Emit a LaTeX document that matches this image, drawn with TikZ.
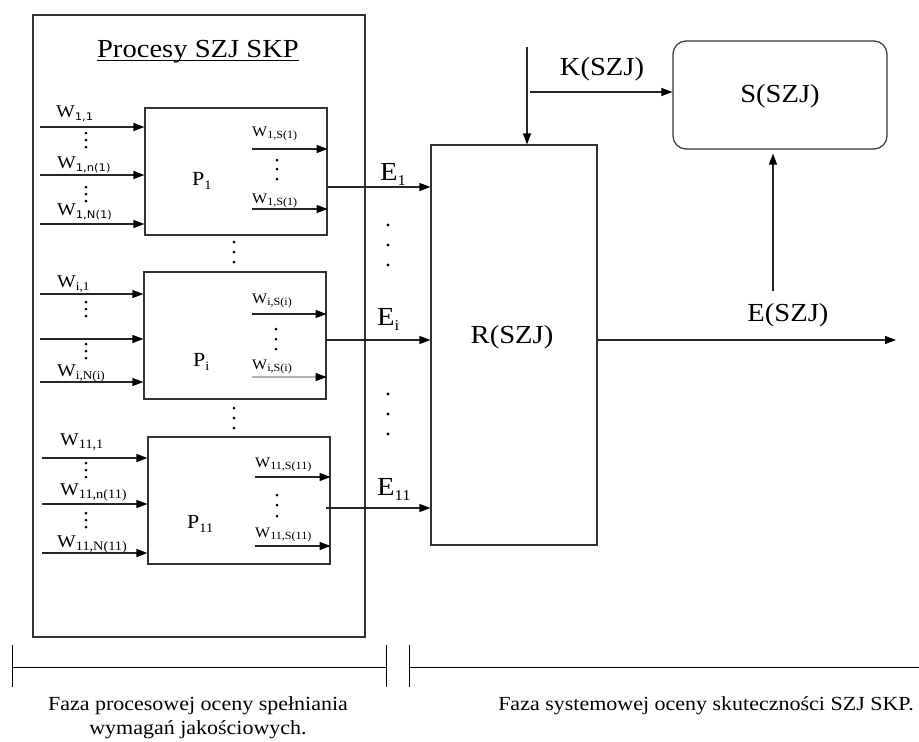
\documentclass[tikz,border=0pt]{standalone}
\usepackage{fontspec}
\setmainfont{Liberation Serif}[FakeStretch=1.1]
\newfontfamily\subsf{DejaVu Sans}[FakeStretch=1.1]
\usetikzlibrary{arrows.meta}
\newcommand\sbs[2]{\raisebox{-0.2em}{\fontsize{#1}{#1}\selectfont #2}}
\newcommand\fs[1]{\fontsize{#1}{#1}\selectfont}
\begin{document}
\begin{tikzpicture}[x=1pt,y=-1pt,
 ln/.style={line width=1.2pt, draw=black!85},
 arr/.style={ln,-{Triangle[length=11pt,width=8pt,color=black]}},
 box/.style={draw=black!80,line width=1.2pt,inner sep=0},
 pbox/.style={box,minimum width=182pt,minimum height=127pt},
 win/.style={anchor=base west,inner sep=0,font=\fs{18}},
 wout/.style={anchor=base west,inner sep=0,font=\fs{14.5}},
 plab/.style={anchor=base west,inner sep=0,font=\fs{20}},
 elab/.style={anchor=base west,inner sep=0,font=\fs{26}},
 big/.style={inner sep=0,font=\fs{26}},
 foot/.style={anchor=base,inner sep=0,font=\fs{20}},
]
\useasboundingbox (0,0) rectangle (919,742);

% outer frame
\node[box,minimum width=332pt,minimum height=622pt] (outer) at (199,326) {};
\node[anchor=base,inner sep=0,font=\fs{26}] (title) at (198,57) {Procesy SZJ SKP};
\draw[line width=1pt] ([yshift=-3pt]title.base west) -- ([yshift=-3pt]title.base east);

% process boxes
\node[pbox] (P1) at (236,171.5) {};
\node[pbox] (Pi) at (235,335.5) {};
\node[pbox] (P11) at (239,500.5) {};

\node[plab] (lP1) at (192,185) {P\sbs{13}{1}};
\node[plab] (lPi) at (193,366) {P\sbs{13}{i}};
\node[plab] (lP11) at (187,528) {P\sbs{13}{11}};

% inputs P1
\foreach \n/\y in {a/127,b/175,c/224} {
  \coordinate (i1\n) at (40,\y);
  \draw[arr] (i1\n) -- (i1\n -| P1.west);
}
\node[win] (w11) at (56,117) {W\sbs{10.5}{\subsf 1,1}};
\node[win] (w1n) at (57,168) {W\sbs{10.5}{\subsf 1,n(1)}};
\node[win] (w1N) at (57,215) {W\sbs{10.5}{\subsf 1,N(1)}};
\foreach \y in {133,140,147,187,194,201} \fill (86,\y) circle (1.5pt);

% outputs P1
\foreach \n/\y in {a/149,b/209} {
  \coordinate (o1\n) at (252,\y);
  \draw[arr] (o1\n) -- (o1\n -| P1.east);
}
\node[wout] (w1s1) at (252,136) {W\sbs{11}{1,S(1)}};
\node[wout] (w1s2) at (252,203) {W\sbs{11}{1,S(1)}};
\foreach \y in {160,169,179} \fill (277,\y) circle (1.5pt);

% dots between P boxes
\foreach \y in {242,252,262,408,418,428} \fill (234,\y) circle (1.5pt);

% inputs Pi
\foreach \n/\y in {a/294,b/339,c/382} {
  \coordinate (ii\n) at (40,\y);
  \draw[arr] (ii\n) -- (ii\n -| Pi.west);
}
\node[win] (wi1) at (57,287) {W\sbs{12}{i,1}};
\node[win] (wiN) at (57,376) {W\sbs{12}{i,N(i)}};
\foreach \y in {302,309,316,344,351,358} \fill (86,\y) circle (1.5pt);

% outputs Pi
\coordinate (oia) at (252,314);
\coordinate (oib) at (252,377);
\draw[arr] (oia) -- (oia -| Pi.east);
\draw[arr,draw=black!30] (oib) -- (oib -| Pi.east);
\node[wout] (wis1) at (252,303) {W\sbs{11}{i,S(i)}};
\node[wout] (wis2) at (252,369) {W\sbs{11}{i,S(i)}};
\foreach \y in {329,339,349} \fill (276,\y) circle (1.5pt);

% inputs P11
\foreach \n/\y in {a/458,b/504,c/553} {
  \coordinate (ik\n) at (42,\y);
  \draw[arr] (ik\n) -- (ik\n -| P11.west);
}
\node[win] (wk1) at (60,445) {W\sbs{13}{11,1}};
\node[win] (wkn) at (60,495) {W\sbs{13}{11,n(11)}};
\node[win] (wkN) at (57,547) {W\sbs{13}{11,N(11)}};
\foreach \y in {463,470,477,513,520,527} \fill (86,\y) circle (1.5pt);

% outputs P11
\foreach \n/\y in {a/477,b/546} {
  \coordinate (ok\n) at (255,\y);
  \draw[arr] (ok\n) -- (ok\n -| P11.east);
}
\node[wout] (wks1) at (255,467) {W\sbs{11}{11,S(11)}};
\node[wout] (wks2) at (255,537) {W\sbs{11}{11,S(11)}};
\foreach \y in {495,505,516} \fill (277,\y) circle (1.5pt);

% R box
\node[box,minimum width=166pt,minimum height=400pt] (R) at (514,345) {};
\node[big] (Rl) at (512,337) {R(SZJ)};

% E arrows
\coordinate (e1) at (431,187);
\coordinate (ei) at (431,340);
\coordinate (ek) at (431,508);
\draw[arr] (e1 -| P1.east) -- (e1 -| R.west);
\draw[arr] (ei -| Pi.east) -- (ei -| R.west);
\draw[arr] (326,508) coordinate (eks) -- (ek -| R.west);
\node[elab] (E1) at (380,180) {E\sbs{15}{1}};
\node[elab] (Ei) at (377,325) {E\sbs{15}{i}};
\node[elab] (E11) at (377,495) {E\sbs{15}{11}};
\foreach \y in {225,245,265,394,414,434} \fill (388,\y) circle (1.7pt);

% S box
\node[box,rounded corners=13pt,minimum width=214pt,minimum height=108pt] (S) at (780,95) {};
\node[big] (Sl) at (780,96) {S(SZJ)};

% K
\coordinate (ktop) at (527,47);
\draw[arr] (ktop) -- (ktop |- R.north);
\coordinate (kb) at (530,92);
\draw[arr] (kb) -- (kb -| S.west);
\node[big] (Kl) at (602,69) {K(SZJ)};

% E(SZJ)
\coordinate (eb) at (773,291);
\draw[arr,shorten >=4pt] (eb) -- (eb |- S.south);
\coordinate (eout) at (896,340);
\draw[arr] (R.east |- eout) -- (eout);
\node[big] (El) at (788,315) {E(SZJ)};

% bottom phase brackets
\draw[line width=1pt] (12,645) -- (12,687) (12,667) -- (386,667) (386,645) -- (386,687);
\draw[line width=1pt] (409,645) -- (409,687) (409,667) -- (919,667);
\node[foot] (f1) at (198,710) {Faza procesowej oceny spełniania};
\node[foot] (f2) at (198,734) {wymagań jakościowych.};
\node[foot] (f3) at (706,710) {Faza systemowej oceny skuteczności SZJ SKP.};
\end{tikzpicture}
\end{document}
